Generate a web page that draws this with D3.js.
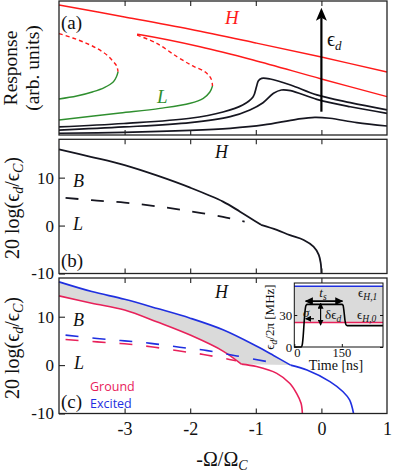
<!DOCTYPE html>
<html>
<head>
<meta charset="utf-8">
<script src="https://cdn.jsdelivr.net/npm/d3@7"></script>
<style>
body { margin: 0; background: #fff; }
svg { display: block; font-family: "Liberation Serif", "DejaVu Serif", serif; }
</style>
</head>
<body>
<svg id="chart" width="394" height="476"></svg>
<script>
// ---- data ----
const xTicks = [-3, -2, -1, 0, 1];
const yTicks = [-10, 0, 10];

// panel (a): response curves, [detuning, response]
const aRedUpper1 = [[-4, 9.70], [-3, 8.81], [-2, 7.89], [-1, 6.87], [0, 5.82], [1, 4.70]];
const aRedDashed1 = [[-4, 7.57], [-3.79, 7.24], [-3.58, 6.84], [-3.42, 6.46], [-3.27, 5.97], [-3.18, 5.52], [-3.12, 5.15], [-3.10, 4.72]];
const aGreen1 = [[-3.10, 4.72], [-3.12, 4.40], [-3.17, 3.98], [-3.31, 3.54], [-3.48, 3.23], [-3.73, 2.91], [-4, 2.69]];
const aRedUpper2 = [[-2.81, 7.52], [-2.78, 7.50], [-1.85, 6.59], [-1.04, 5.60], [0, 4.18], [1, 2.86]];
const aRedDashed2 = [[-2.81, 7.46], [-2.51, 6.84], [-2.20, 5.84], [-1.96, 5.15], [-1.77, 4.70], [-1.68, 4.18], [-1.66, 3.66]];
const aGreen2 = [[-1.66, 3.66], [-1.70, 3.21], [-1.80, 2.74], [-2.00, 2.37], [-2.46, 1.99], [-3.07, 1.64], [-4, 1.12]];
const aBlack1 = [[-4, 0.60], [-3.01, 0.86], [-2, 1.25], [-1.5, 1.72], [-1.2, 2.24], [-1.04, 2.86], [-0.99, 3.60], [-0.96, 4.05], [-0.91, 4.23], [-0.78, 4.18], [-0.47, 3.73], [-0.07, 2.99], [0.44, 2.41], [1, 1.87]];
const aBlack2 = [[-4, 0.37], [-3.01, 0.60], [-2, 0.93], [-1.39, 1.37], [-1.09, 1.87], [-0.89, 2.41], [-0.73, 3.11], [-0.61, 3.36], [-0.47, 3.31], [-0.07, 2.66], [0.44, 2.11], [1, 1.62]];
const aBlack3 = [[-4, 0.13], [-3.01, 0.19], [-2, 0.34], [-1.39, 0.50], [-0.88, 0.75], [-0.38, 1.17], [-0.10, 1.32], [0.13, 1.25], [0.54, 0.92], [1, 0.67]];
const aArrow = [[0, 1.74], [0, 9.5]];

// panel (b): 20 log(eps_d / eps_C)
const bSolid = [[-4, 15.9], [-3.5, 14.3], [-3, 12.6], [-2.5, 10.4], [-2, 7.9], [-1.5, 5.0], [-1.24, 2.9], [-0.92, 0.15], [-0.68, -0.9], [-0.48, -2.0], [-0.27, -3.0], [-0.12, -4.4], [-0.04, -6.1], [-0.01, -7.9], [0, -10]];
const bDashed = [[-3.9, 5.8], [-3.5, 5.3], [-3, 4.8], [-2.5, 4.0], [-2, 3.0], [-1.5, 1.8], [-1.17, 0.8]];
const bKink = -0.92;

// panel (c): ground / excited
const cBlue = [[-4, 17.2], [-3.5, 15.2], [-3, 13.6], [-2.5, 11.7], [-2, 9.7], [-1.5, 7.3], [-1, 4.0], [-0.73, 2.0], [-0.47, 0], [-0.22, -1.0], [0.13, -3.4], [0.33, -5.5], [0.43, -7.2], [0.49, -10]];
const cRed = [[-4, 14.3], [-3.5, 12.8], [-3, 11.4], [-2.5, 8.9], [-2, 6.2], [-1.5, 2.9], [-1.22, 0.2], [-0.99, -0.3], [-0.68, -1.7], [-0.48, -3.8], [-0.38, -5.8], [-0.31, -7.9], [-0.29, -10]];
const cBlueDashed = [[-3.9, 6.2], [-3.42, 5.5], [-3, 5.0], [-2.6, 4.5], [-2.16, 3.7], [-1.74, 3.0], [-1.29, 1.9], [-0.82, 0.7]];
const cRedDashed = [[-3.9, 5.3], [-3.42, 4.8], [-3, 4.4], [-2.6, 3.8], [-2.16, 2.9], [-1.8, 2.2], [-1.45, 1.3], [-1.3, 0.9]];
const blueKink = -0.47, redKink = -1.22;

// inset: drive pulse
const insetTime = [0, 22, 25, 28, 31, 34, 37, 41, 150, 154, 157, 160, 163, 167, 280];
const insetPulse = [0, 0, 2, 10, 23, 34, 39, 40, 40, 39, 33, 25, 21, 20, 20];
const insetH0 = 23, insetH1 = 57;
const insetXTicks = [0, 150];
const insetYTicks = [0, 30];

// ---- drawing ----
const svg = d3.select('#chart');
const red = '#ff1a1a', green = '#2f8f2f', ink = '#161620';
const gRed = '#e8215a', gBlue = '#1f2fe0';

const x = d3.scaleLinear().domain([-4, 1]).range([59, 387]);
const yA = d3.scaleLinear().domain([0, 10]).range([135, 1]);
const yB = d3.scaleLinear().domain([-10, 18]).range([273.5, 139.3]);
const yC = d3.scaleLinear().domain([-10, 18]).range([413.5, 278]);

function frame(y, withY) {
    const [b, t] = y.range();
    const g = svg.append('g');
    g.append('g').attr('transform', `translate(0,${b})`)
        .call(d3.axisTop(x).tickValues(xTicks.slice(0, 4)).tickSize(5).tickFormat(''));
    g.append('g').attr('transform', `translate(0,${t})`)
        .call(d3.axisBottom(x).tickValues(xTicks.slice(0, 4)).tickSize(5).tickFormat(''));
    if (withY) {
        g.append('g').attr('transform', `translate(${x.range()[0]},0)`)
            .call(d3.axisLeft(y).tickValues(yTicks).tickSizeInner(-6).tickSizeOuter(0).tickPadding(5)
                .tickFormat(d => String(d)));
    }
    g.selectAll('.domain').remove();
    g.selectAll('.tick line').attr('stroke', '#222').attr('stroke-width', 1.1);
    g.selectAll('.tick text').attr('font-family', '"Liberation Serif", serif').attr('font-size', 17).attr('fill', '#111');
    g.append('rect')
        .attr('x', x.range()[0]).attr('y', t)
        .attr('width', x.range()[1] - x.range()[0]).attr('height', b - t)
        .attr('fill', 'none').attr('stroke', '#222').attr('stroke-width', 1.3);
    return g;
}

function curve(y, data, color, width, dash) {
    const line = d3.line().x(d => x(d[0])).y(d => y(d[1]))
        .curve(d3.curveCatmullRom.alpha(0.5));
    svg.append('path').datum(data)
        .attr('d', line)
        .attr('fill', 'none')
        .attr('stroke', color)
        .attr('stroke-width', width)
        .attr('stroke-dasharray', dash || null)
        .attr('stroke-linejoin', 'round');
}

// a line with a corner: two smooth pieces meeting at the kink
function kinked(y, data, kink, color, width) {
    curve(y, data.filter(d => d[0] <= kink), color, width);
    curve(y, data.filter(d => d[0] >= kink), color, width);
}

function label(px, py, html, opts = {}) {
    svg.append('text')
        .attr('x', px).attr('y', py)
        .attr('font-size', opts.size || 18)
        .attr('font-style', opts.italic ? 'italic' : null)
        .attr('fill', opts.color || '#111')
        .attr('text-anchor', opts.anchor || 'start')
        .attr('font-family', opts.family || null)
        .attr('transform', opts.rotate ? `rotate(-90,${px},${py})` : null)
        .html(html);
}

// panel (a)
curve(yA, aRedUpper1, red, 1.4);
curve(yA, aRedDashed1, red, 1.4, '4,3');
curve(yA, aGreen1, green, 1.4);
curve(yA, aRedUpper2, red, 1.4);
curve(yA, aRedDashed2, red, 1.4, '4,3');
curve(yA, aGreen2, green, 1.4);
curve(yA, aBlack1, ink, 1.7);
curve(yA, aBlack2, ink, 1.7);
curve(yA, aBlack3, ink, 1.7);

svg.append('line')
    .attr('x1', x(aArrow[0][0])).attr('y1', yA(aArrow[0][1]))
    .attr('x2', x(aArrow[1][0])).attr('y2', yA(aArrow[1][1]) + 10)
    .attr('stroke', '#000').attr('stroke-width', 2.2);
svg.append('path')
    .attr('d', `M${x(0)},${yA(aArrow[1][1])} l-5.5,13 l5.5,-3 l5.5,3 z`)
    .attr('fill', '#000');
frame(yA, false);

label(61, 29, '(a)', { size: 19 });
label(225, 24, 'H', { size: 19, italic: true, color: red });
label(157, 103, 'L', { size: 19, italic: true, color: green });
label(327, 46, 'ϵ<tspan font-size="13" font-style="italic" dy="4">d</tspan>', { size: 20 });

// panel (b)
kinked(yB, bSolid, bKink, ink, 1.8);
curve(yB, bDashed, ink, 1.8, '13,12.5');
frame(yB, true);
label(73, 187, 'B', { size: 18, italic: true });
label(73, 230, 'L', { size: 18, italic: true });
label(215, 158, 'H', { size: 18, italic: true });
label(61, 267, '(b)', { size: 19 });

// panel (c)
const fillPts = cBlue.filter(d => d[0] <= blueKink)
    .concat(cRed.filter(d => d[0] <= redKink).reverse());
svg.append('path').datum(fillPts)
    .attr('d', d3.line().x(d => x(d[0])).y(d => yC(d[1])).curve(d3.curveLinearClosed))
    .attr('fill', '#dadada');
kinked(yC, cBlue, blueKink, gBlue, 1.6);
kinked(yC, cRed, redKink, gRed, 1.6);
curve(yC, cBlueDashed, gBlue, 1.6, '13,14');
curve(yC, cRedDashed, gRed, 1.6, '13,14');
const fc = frame(yC, true);
fc.append('g').attr('transform', `translate(0,${yC.range()[0]})`)
    .call(d3.axisBottom(x).tickValues(xTicks).tickSize(0).tickPadding(9).tickFormat(d => String(d)))
    .call(g => g.select('.domain').remove())
    .selectAll('text').attr('font-family', '"Liberation Serif", serif').attr('font-size', 18).attr('fill', '#111');

label(73, 326, 'B', { size: 18, italic: true });
label(74, 369, 'L', { size: 18, italic: true });
label(215, 298, 'H', { size: 18, italic: true });
label(61, 408, '(c)', { size: 19 });
label(90, 391, 'Ground', { size: 12.5, color: gRed, family: '"Open Sans", sans-serif' });
label(90, 408, 'Excited', { size: 12.5, color: gBlue, family: '"Open Sans", sans-serif' });

// axis titles
label(17, 68, 'Response', { size: 19.5, anchor: 'middle', rotate: true });
label(39, 68, '(arb. units)', { size: 19.5, anchor: 'middle', rotate: true });
const ytitle = '20 log(ϵ<tspan font-size="14" font-style="italic" dy="4">d</tspan><tspan dy="-4">/ϵ</tspan><tspan font-size="14" font-style="italic" dy="4">C</tspan><tspan dy="-4">)</tspan>';
label(19, 208, ytitle, { size: 20, anchor: 'middle', rotate: true });
label(19, 348, ytitle, { size: 20, anchor: 'middle', rotate: true });
label(222, 466, '-Ω/Ω<tspan font-size="14" font-style="italic" dy="4">C</tspan>', { size: 20, anchor: 'middle' });

// inset
const ix = d3.scaleLinear().domain([0, 280]).range([294.3, 383]);
const iy = d3.scaleLinear().domain([0, 60]).range([347, 283]);
const inset = svg.append('g');
inset.append('rect').attr('x', ix(0)).attr('y', iy(60)).attr('width', ix(280) - ix(0)).attr('height', iy(0) - iy(60))
    .attr('fill', '#fff');
inset.append('rect').attr('x', ix(0)).attr('y', iy(insetH1)).attr('width', ix(280) - ix(0)).attr('height', iy(insetH0) - iy(insetH1))
    .attr('fill', '#dadada');
inset.append('line').attr('x1', ix(0)).attr('x2', ix(280)).attr('y1', iy(insetH1)).attr('y2', iy(insetH1))
    .attr('stroke', gBlue).attr('stroke-width', 1.4);
inset.append('line').attr('x1', ix(0)).attr('x2', ix(280)).attr('y1', iy(insetH0)).attr('y2', iy(insetH0))
    .attr('stroke', gRed).attr('stroke-width', 1.4);
inset.append('path').datum(insetTime.map((t, i) => [t, insetPulse[i]]))
    .attr('d', d3.line().x(d => ix(d[0])).y(d => iy(d[1])).curve(d3.curveMonotoneX))
    .attr('fill', 'none').attr('stroke', '#000').attr('stroke-width', 1.6);

const defs = svg.append('defs');
defs.append('marker').attr('id', 'ah').attr('viewBox', '0 0 10 10').attr('refX', 9).attr('refY', 5)
    .attr('markerWidth', 5).attr('markerHeight', 5).attr('orient', 'auto-start-reverse')
    .append('path').attr('d', 'M0,0 L10,5 L0,10 z').attr('fill', '#000');

inset.append('line').attr('x1', ix(36)).attr('x2', ix(152)).attr('y1', iy(43)).attr('y2', iy(43))
    .attr('stroke', '#000').attr('stroke-width', 1.6)
    .attr('marker-start', 'url(#ah)').attr('marker-end', 'url(#ah)');
inset.append('line').attr('x1', ix(83)).attr('x2', ix(83)).attr('y1', iy(41)).attr('y2', iy(20.5))
    .attr('stroke', '#000').attr('stroke-width', 1.2)
    .attr('marker-start', 'url(#ah)').attr('marker-end', 'url(#ah)');
inset.append('line').attr('x1', ix(62)).attr('x2', ix(36)).attr('y1', iy(26.5)).attr('y2', iy(26.5))
    .attr('stroke', '#000').attr('stroke-width', 1.2).attr('marker-end', 'url(#ah)');

inset.append('g').attr('transform', `translate(0,${iy(0)})`)
    .call(d3.axisTop(ix).tickValues(insetXTicks).tickSize(3).tickFormat(''));
inset.append('g').attr('transform', `translate(${ix(0)},0)`)
    .call(d3.axisRight(iy).tickValues(insetYTicks).tickSize(3).tickFormat(''));
inset.append('g').attr('transform', `translate(${ix(280)},0)`)
    .call(d3.axisLeft(iy).tickValues(insetYTicks).tickSize(3).tickFormat(''));
inset.selectAll('.domain').remove();
inset.selectAll('.tick line').attr('stroke', '#111');
inset.append('rect').attr('x', ix(0)).attr('y', iy(60)).attr('width', ix(280) - ix(0)).attr('height', iy(0) - iy(60))
    .attr('fill', 'none').attr('stroke', '#111').attr('stroke-width', 1);

insetYTicks.forEach(v => label(ix(0) - 2, iy(v) + 4.5, String(v), { size: 13, anchor: 'end' }));
insetXTicks.forEach(v => label(ix(v) + (v === 0 ? 3 : 0), iy(0) + 9.5, String(v), { size: 12.5, anchor: 'middle' }));
label(336, 370, 'Time [ns]', { size: 14, anchor: 'middle' });
label(274, 317, 'ϵ<tspan font-size="9.5" font-style="italic" dy="3">d</tspan><tspan dy="-3">/2π [MHz]</tspan>', { size: 13, anchor: 'middle', rotate: true });
label(323, 297, 't<tspan font-size="9.5" dy="2.5">s</tspan>', { size: 13, italic: true, anchor: 'middle' });
label(325, 319, 'δϵ<tspan font-size="9.5" font-style="italic" dy="3">d</tspan>', { size: 13 });
label(303, 317, 'σ', { size: 13, italic: true });
label(358, 297, 'ϵ<tspan font-size="9.5" font-style="italic" dy="3">H,1</tspan>', { size: 13 });
label(357, 319, 'ϵ<tspan font-size="9.5" font-style="italic" dy="3">H,0</tspan>', { size: 13 });
</script>
</body>
</html>
